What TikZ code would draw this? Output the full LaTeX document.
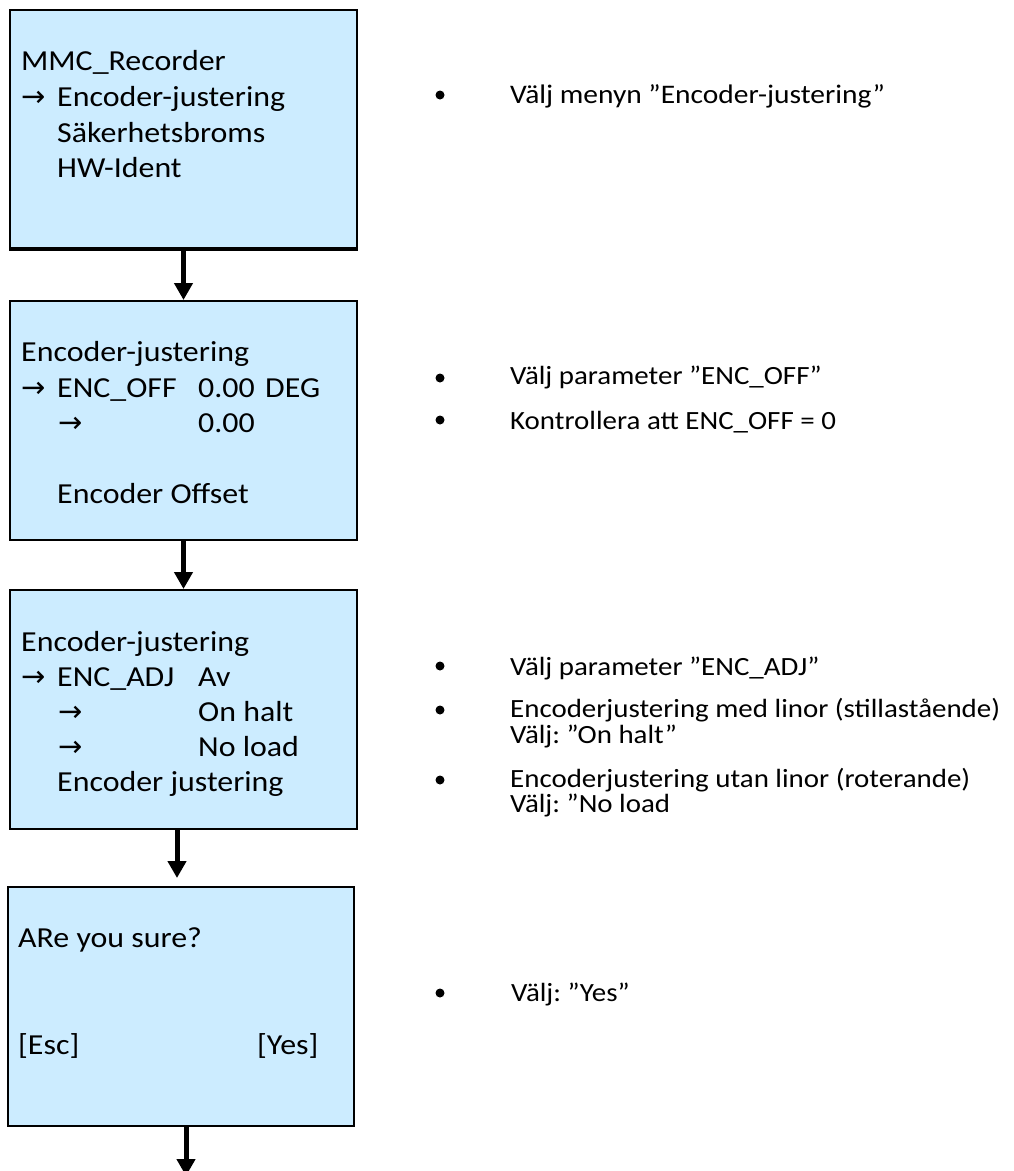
\documentclass[tikz,border=0pt]{standalone}
\usepackage{fontspec}
\setmainfont[FakeStretch=1.1]{Carlito}
\newfontfamily\arrowfont{DejaVu Sans}
\usetikzlibrary{arrows.meta}
\definecolor{screenblue}{RGB}{204,236,255}
\frenchspacing
\newcommand{\sel}{{\arrowfont →}}

\begin{document}
\begin{tikzpicture}[x=1pt, y=-1pt,
  screen/.style={draw, line width=2pt, fill=screenblue, inner sep=0pt},
  flow/.style={line width=5pt, -{Triangle[length=17pt,width=18pt]}},
  boxtxt/.style={anchor=base west, inner sep=0pt, font=\fontsize{29}{35}\selectfont},
  note/.style={anchor=base west, inner sep=0pt, font=\fontsize{26.3}{27}\selectfont},
  dot/.style={circle, fill, inner sep=0pt, minimum size=9pt}]

\useasboundingbox (0,0) rectangle (1013,1171);

% screens
\node[screen, minimum width=347pt, minimum height=238pt] (s1) at (183.5,129) {};
\node[screen, minimum width=347pt, minimum height=239pt] (s2) at (183.5,420.5) {};
\node[screen, minimum width=347pt, minimum height=239pt] (s3) at (183.5,709.5) {};
\node[screen, minimum width=346pt, minimum height=239pt] (s4) at (181,1006.5) {};
\draw[line width=3pt] (s1.south west) -- (s1.south east);

\draw[flow] (s1.south) -- (s2.north);
\draw[flow] (s2.south) -- (s3.north);
\coordinate (a3) at (177,878);
\draw[flow] (s3.south -| a3) -- (a3);
\coordinate (a4) at (186,1176);
\draw[flow] (s4.south -| a4) -- (a4);

% screen 1
\node[boxtxt] (m1) at (21,70) {MMC\_Recorder};
\node[boxtxt] (m1p) at (21,106) {\sel};
\node[boxtxt] (m2) at (57,106) {Encoder-justering};
\node[boxtxt] (m3) at (57,142) {Säkerhetsbroms};
\node[boxtxt] (m4) at (57,177) {HW-Ident};

% screen 2
\node[boxtxt] (o1) at (21,361) {Encoder-justering};
\node[boxtxt] (o2p) at (21,397) {\sel};
\node[boxtxt] (o2) at (57,397) {ENC\_OFF};
\node[boxtxt] (o2v) at (198,397) {0.00};
\node[boxtxt] (o2u) at (265,397) {DEG};
\node[boxtxt] (o3p) at (58,432) {\sel};
\node[boxtxt] (o3v) at (198,432) {0.00};
\node[boxtxt] (o4) at (57,503) {Encoder Offset};

% screen 3
\node[boxtxt] (j1) at (21,651) {Encoder-justering};
\node[boxtxt] (j2p) at (21,686) {\sel};
\node[boxtxt] (j2) at (57,686) {ENC\_ADJ};
\node[boxtxt] (j2v) at (198,686) {Av};
\node[boxtxt] (j3p) at (58,721) {\sel};
\node[boxtxt] (j3v) at (198,721) {On halt};
\node[boxtxt] (j4p) at (58,756) {\sel};
\node[boxtxt] (j4v) at (198,756) {No load};
\node[boxtxt] (j5) at (57,791) {Encoder justering};

% screen 4
\node[boxtxt] (y1) at (18,947) {ARe you sure?};
\node[boxtxt] (y2) at (18,1054) {[Esc]};
\node[boxtxt] (y3) at (257,1054) {[Yes]};

% notes
\node[dot] (b1) at (440,95) {};
\node[note, font=\fontsize{26.8}{28}\selectfont] (n1) at (510,103) {Välj menyn ”Encoder-justering”};

\node[dot] (b2) at (440,378) {};
\node[note] (n2) at (510,384) {Välj parameter ”ENC\_OFF”};
\node[dot] (b3) at (440,420) {};
\node[note] (n3) at (510,429) {Kontrollera att ENC\_OFF = 0};

\node[dot] (b4) at (440,666) {};
\node[note] (n4) at (510,675) {Välj parameter ”ENC\_ADJ”};
\node[dot] (b5) at (440,710) {};
\node[note] (n5) at (510,717) {Encoderjustering med linor (stillastående)};
\node[note] (n5b) at (510,743) {Välj: ”On halt”};
\node[dot] (b6) at (440,780) {};
\node[note] (n6) at (510,787) {Encoderjustering utan linor (roterande)};
\node[note] (n6b) at (510,812) {Välj: ”No load};

\node[dot] (b7) at (440,993) {};
\node[note] (n7) at (511,1001) {Välj: ”Yes”};

\end{tikzpicture}
\end{document}
